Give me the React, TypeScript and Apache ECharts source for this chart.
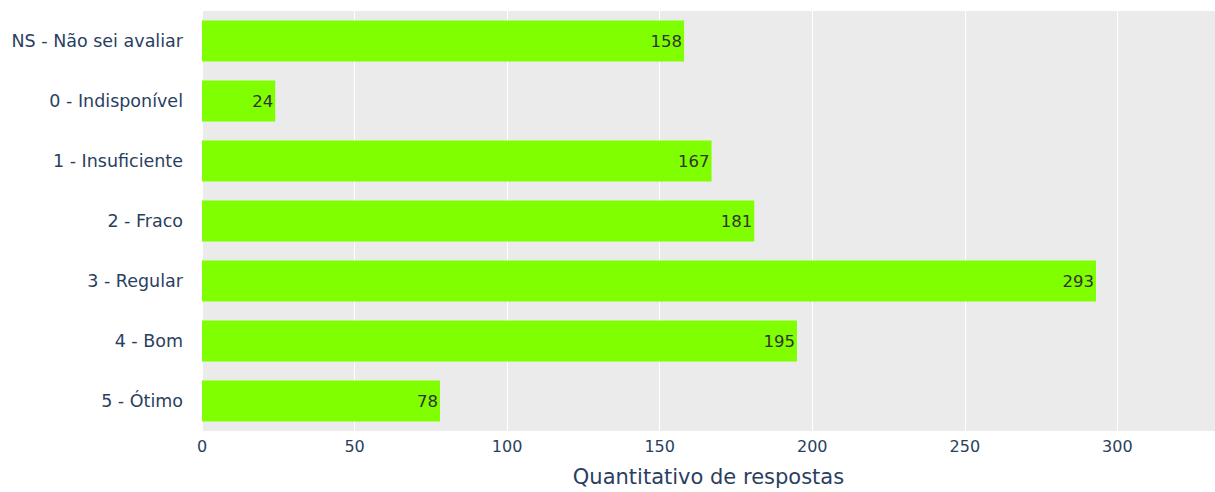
import React, { useEffect, useRef } from "react";
import * as echarts from "echarts";

const categories = [
  "NS - Não sei avaliar",
  "0 - Indisponível",
  "1 - Insuficiente",
  "2 - Fraco",
  "3 - Regular",
  "4 - Bom",
  "5 - Ótimo",
];
const values = [158, 24, 167, 181, 293, 195, 78];
const xTicks = [0, 50, 100, 150, 200, 250, 300];
const xTitle = "Quantitativo de respostas";

export default function App() {
  const ref = useRef<HTMLDivElement>(null);
  useEffect(() => {
    document.body.style.margin = "0";
    const chart = echarts.init(ref.current!, null, { renderer: "svg" });
    chart.setOption({
      animation: false,
      backgroundColor: "#ffffff",
      grid: {
        left: 202,
        right: 0,
        top: 11,
        bottom: 54,
        show: true,
        backgroundColor: "#ebebeb",
        borderWidth: 0,
      },
      xAxis: {
        type: "value",
        min: 0,
        max: 332,
        interval: 50,
        name: xTitle,
        nameLocation: "middle",
        nameGap: 35,
        nameTextStyle: {
          fontFamily: "DejaVu Sans",
          fontSize: 21,
          color: "#2a3f5f",
          verticalAlign: "top",
        },
        axisLine: { show: false },
        axisTick: { show: false },
        axisLabel: {
          fontFamily: "DejaVu Sans",
          fontSize: 16,
          color: "#2a3f5f",
          margin: 7,
          showMaxLabel: false,
          formatter: (v: number) => (xTicks.includes(v) ? String(v) : ""),
        },
        splitLine: { show: true, lineStyle: { color: "#ffffff", width: 1 } },
      },
      yAxis: {
        type: "category",
        data: categories,
        inverse: true,
        axisLine: { show: false },
        axisTick: { show: false },
        axisLabel: {
          fontFamily: "DejaVu Sans",
          fontSize: 17.5,
          color: "#2a3f5f",
          margin: 19,
        },
        splitLine: { show: false },
      },
      series: [
        {
          type: "bar",
          data: values,
          barCategoryGap: "32%",
          itemStyle: { color: "#7fff00" },
          label: {
            show: true,
            position: "insideRight",
            distance: 2,
            fontFamily: "DejaVu Sans",
            fontSize: 16.5,
            color: "#333333",
          },
        },
      ],
    });
    return () => chart.dispose();
  }, []);
  return (
    <div
      ref={ref}
      style={{ position: "fixed", left: 0, top: 0, width: 1215, height: 492 }}
    />
  );
}
